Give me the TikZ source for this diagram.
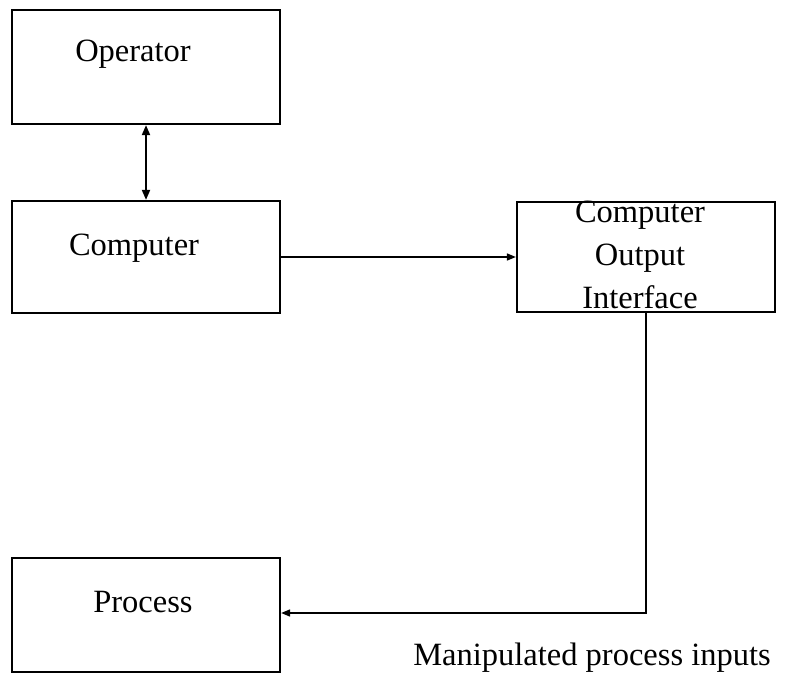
\documentclass[tikz,border=0pt]{standalone}
\usepackage{fontspec}
\setmainfont{Liberation Serif}
\usetikzlibrary{arrows.meta}
\begin{document}
\begin{tikzpicture}[x=1pt,y=-1pt,
  box/.style={draw, line width=2.2pt, rectangle, inner sep=0pt},
  txt/.style={font=\fontsize{32.5}{43}\selectfont, inner sep=0pt, align=center},
  conn/.style={line width=1.5pt, -{Triangle[length=9pt,width=7pt]}},
  dconn/.style={line width=1.9pt, {Triangle[length=10pt,width=8pt]}-{Triangle[length=10pt,width=8pt]}}]
\useasboundingbox (0,0) rectangle (795,677);
\node[box, minimum width=268pt, minimum height=114pt] (op) at (146,67) {};
\node[box, minimum width=268pt, minimum height=112pt] (comp) at (146,257) {};
\node[box, minimum width=258pt, minimum height=110pt] (coi) at (646,257) {};
\node[box, minimum width=268pt, minimum height=114pt] (proc) at (146,615) {};
\node[txt] (opt) at (133,54) {Operator};
\node[txt] (compt) at (134,248) {Computer};
\node[txt] (coit) at (640,255) {Computer\\Output\\Interface};
\node[txt] (proct) at (143,602) {Process};
\node[txt] (mpi) at (592,658) {Manipulated process inputs};
\coordinate (corner) at (coi.south |- 0,613);
\draw[dconn] (op.south) -- (comp.north);
\draw[conn] (comp.east) -- (coi.west);
\draw[conn] (coi.south) -- (corner) -- (corner -| proc.east);
\end{tikzpicture}
\end{document}
